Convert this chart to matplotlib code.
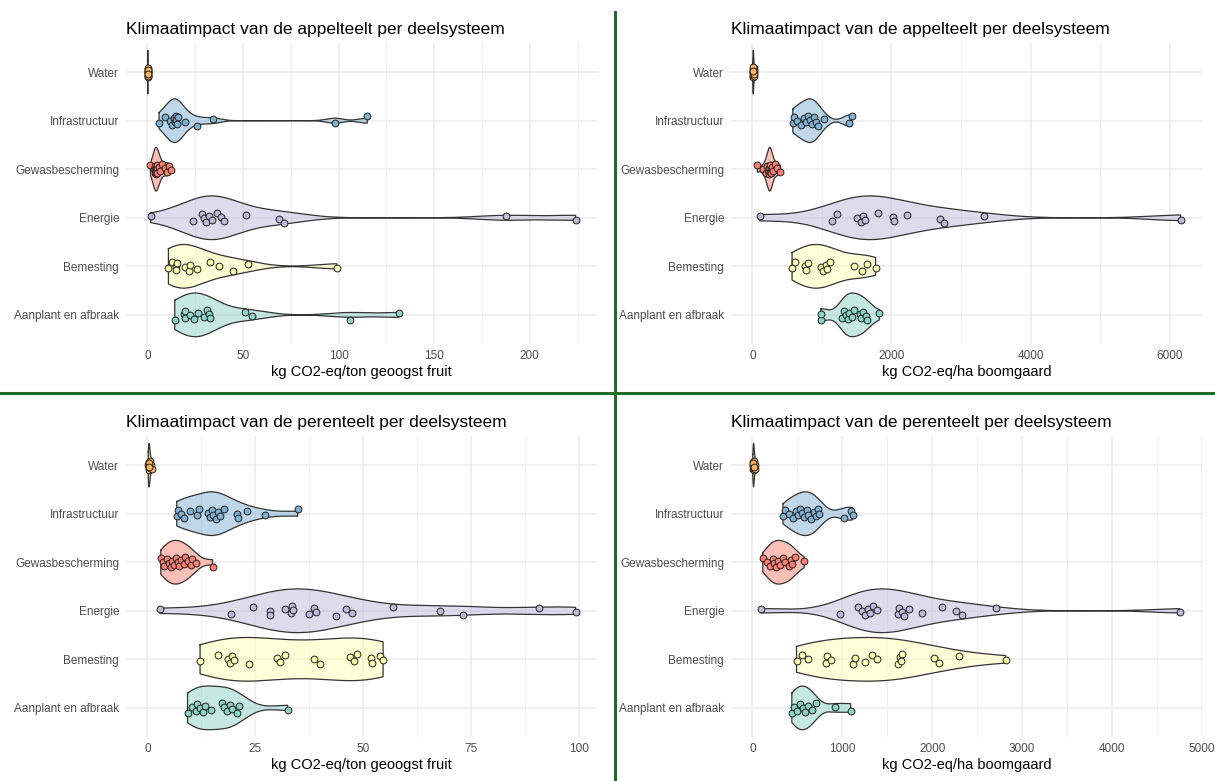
import numpy as np
import matplotlib
matplotlib.use("Agg")
import matplotlib.pyplot as plt
from matplotlib.lines import Line2D

plt.rcParams['font.family'] = ['Liberation Sans', 'DejaVu Sans']

# ---------------- data ----------------
categories = ["Aanplant en afbraak", "Bemesting", "Energie",
              "Gewasbescherming", "Infrastructuur", "Water"]
colors = ["#8DD3C7", "#FFFFB3", "#BEBADA", "#FB8072", "#80B1D3", "#FDB462"]

titles = ["Klimaatimpact van de appelteelt per deelsysteem",
          "Klimaatimpact van de appelteelt per deelsysteem",
          "Klimaatimpact van de perenteelt per deelsysteem",
          "Klimaatimpact van de perenteelt per deelsysteem"]
xlabels = ["kg CO2-eq/ton geoogst fruit", "kg CO2-eq/ha boomgaard",
           "kg CO2-eq/ton geoogst fruit", "kg CO2-eq/ha boomgaard"]
xticks_major = [[0, 50, 100, 150, 200], [0, 2000, 4000, 6000],
                [0, 25, 50, 75, 100], [0, 1000, 2000, 3000, 4000, 5000]]
xticks_minor = [[25, 75, 125, 175, 225], [1000, 3000, 5000],
                [12.5, 37.5, 62.5, 87.5], [500, 1500, 2500, 3500, 4500]]

# Appel, per ton geoogst fruit
appel_ton_aanplant = [14.3, 19.2, 19.6, 19.8, 22.2, 24.5, 26.7, 29.7, 31.1, 32.0,
                      32.7, 51.0, 54.7, 105.8, 131.6]
appel_ton_bemesting = [11.0, 13.1, 14.9, 15.2, 15.4, 19.8, 21.5, 22.2, 25.7, 32.7,
                       37.6, 44.6, 52.4, 99.1]
appel_ton_energie = [1.7, 23.6, 28.5, 29.7, 30.6, 32.0, 33.7, 36.2, 38.5, 39.9,
                     51.6, 68.7, 71.3, 187.5, 224.0]
appel_ton_gewas = [1.6, 3.3, 3.8, 4.0, 4.2, 4.3, 4.5, 4.6, 4.8, 5.0, 5.1, 5.9,
                   6.8, 7.7, 9.1, 10.3, 11.2, 12.6]
appel_ton_infra = [6.1, 9.1, 11.9, 13.1, 14.0, 14.5, 14.9, 15.0, 15.4, 16.1, 19.8,
                   25.9, 34.4, 97.9, 115.0]
appel_ton_water = [0.1, 0.12, 0.15, 0.18, 0.2, 0.22, 0.25, 0.28, 0.3, 0.2, 0.15, 0.25]

# Appel, per ha boomgaard
appel_ha_aanplant = [983, 989, 1291, 1319, 1352, 1374, 1391, 1430, 1464, 1542,
                     1559, 1587, 1631, 1654, 1827]
appel_ha_bemesting = [570, 609, 760, 777, 793, 983, 1017, 1056, 1073, 1112,
                      1458, 1576, 1654, 1771]
appel_ha_energie = [106, 1140, 1218, 1503, 1559, 1587, 1615, 1799, 2023, 2034,
                    2229, 2693, 2749, 3335, 6157]
appel_ha_gewas = [72, 150, 190, 210, 225, 235, 242, 248, 255, 262, 270, 280,
                  300, 330, 360, 400]
appel_ha_infra = [581, 603, 637, 693, 749, 777, 804, 832, 860, 888, 916, 944,
                  1028, 1391, 1430]
appel_ha_water = [4, 6, 8, 10, 12, 14, 15, 16, 18, 20, 22, 25, 10, 12]

# Peer, per ton geoogst fruit
peer_ton_aanplant = [9.3, 10.4, 11.2, 11.6, 12.2, 12.8, 13.3, 14.7, 17.2, 17.8,
                     18.4, 19.2, 19.7, 20.7, 21.3, 32.5]
peer_ton_bemesting = [12.2, 16.3, 18.6, 19.2, 19.5, 20.1, 23.6, 30.0, 30.8, 31.9,
                      38.5, 40.1, 47.0, 47.8, 48.6, 51.7, 52.0, 53.8, 54.6]
peer_ton_energie = [2.9, 19.3, 24.5, 28.3, 28.5, 31.9, 33.3, 33.5, 33.7, 37.4,
                    38.5, 39.1, 43.7, 45.9, 47.4, 57.0, 67.7, 73.2, 90.7, 99.2]
peer_ton_gewas = [3.1, 3.5, 3.9, 4.5, 5.0, 5.4, 5.8, 6.2, 6.6, 7.0, 7.4, 7.7,
                  8.4, 8.7, 9.3, 10.1, 10.4, 11.2, 15.1]
peer_ton_infra = [6.8, 7.2, 7.7, 8.5, 9.9, 11.5, 12.0, 14.1, 14.6, 14.9, 15.3,
                  15.9, 16.4, 16.9, 17.8, 20.7, 21.1, 23.1, 27.2, 34.8]
peer_ton_water = [0.2, 0.3, 0.35, 0.4, 0.45, 0.5, 0.6, 0.7, 0.8, 1.0, 0.3, 0.4]

# Peer, per ha boomgaard
peer_ha_aanplant = [439, 460, 491, 534, 568, 585, 620, 663, 706, 921, 1093]
peer_ha_bemesting = [491, 555, 620, 814, 827, 869, 1124, 1145, 1257, 1331, 1382,
                     1619, 1640, 1653, 1661, 2019, 2075, 2299, 2816]
peer_ha_energie = [95, 977, 1171, 1223, 1257, 1287, 1309, 1343, 1386, 1619, 1632,
                   1661, 1687, 1747, 1890, 2114, 2268, 2333, 2708, 4750]
peer_ha_gewas = [116, 168, 198, 224, 241, 267, 284, 310, 340, 361, 405, 426,
                 439, 469, 577]
peer_ha_infra = [340, 361, 405, 447, 482, 512, 534, 555, 577, 611, 620, 654,
                 684, 706, 728, 741, 1016, 1093, 1115]
peer_ha_water = [5, 8, 10, 12, 15, 18, 20, 22, 25, 30, 12, 15]

panels = [
    [appel_ton_aanplant, appel_ton_bemesting, appel_ton_energie,
     appel_ton_gewas, appel_ton_infra, appel_ton_water],
    [appel_ha_aanplant, appel_ha_bemesting, appel_ha_energie,
     appel_ha_gewas, appel_ha_infra, appel_ha_water],
    [peer_ton_aanplant, peer_ton_bemesting, peer_ton_energie,
     peer_ton_gewas, peer_ton_infra, peer_ton_water],
    [peer_ha_aanplant, peer_ha_bemesting, peer_ha_energie,
     peer_ha_gewas, peer_ha_infra, peer_ha_water],
]

BW_ADJUST = 1.2

# ---------------- helpers ----------------
def nrd0(x):
    x = np.asarray(x, float)
    hi = np.std(x, ddof=1)
    q75, q25 = np.percentile(x, [75, 25])
    lo = min(hi, (q75 - q25) / 1.34)
    if lo <= 0:
        lo = hi if hi > 0 else 1.0
    return 0.9 * lo * len(x) ** -0.2


def violin(ax, vals, ypos, color, zorder=2):
    vals = np.asarray(vals, float)
    bw = nrd0(vals) * BW_ADJUST
    grid = np.linspace(vals.min(), vals.max(), 512)
    dens = np.exp(-0.5 * ((grid[:, None] - vals[None, :]) / bw) ** 2).sum(axis=1)
    hw = 0.45 * dens / dens.max()
    ax.fill_between(grid, ypos - hw, ypos + hw, facecolor=color, alpha=0.5,
                    edgecolor='none', zorder=zorder)
    xs = np.concatenate([grid, grid[::-1], grid[:1]])
    ys = np.concatenate([ypos + hw, (ypos - hw)[::-1], [ypos + hw[0]]])
    ax.plot(xs, ys, color='#333333', lw=0.9, zorder=zorder + 0.1,
            solid_joinstyle='round')


# ---------------- figure ----------------
W, H = 1215, 781
fig = plt.figure(figsize=(W / 100, H / 100), dpi=100)

ax_w, ax_h = 471, 301
positions = [(126, 43), (731, 43), (126, 436), (731, 436)]

for p, (vals_list, (lx, ty)) in enumerate(zip(panels, positions)):
    ax = fig.add_axes([lx / W, 1 - (ty + ax_h) / H, ax_w / W, ax_h / H])
    allv = np.concatenate([np.asarray(v, float) for v in vals_list])
    vmin, vmax = min(0.0, allv.min()), allv.max()
    rng = vmax - vmin
    ax.set_xlim(vmin - 0.05 * rng, vmax + 0.05 * rng)
    ax.set_ylim(0.4, 6.6)

    for i, (vals, col) in enumerate(zip(vals_list, colors)):
        ypos = i + 1
        violin(ax, vals, ypos, col)
        n = len(vals)
        jit = np.array([((k * 0.6180339887 + 0.31 * i) % 1.0 - 0.5) * 0.22
                        for k in range(n)])
        ax.scatter(vals, ypos + jit, s=24, facecolor=col, edgecolor='#222222',
                   linewidths=0.7, zorder=4)

    ax.set_yticks(range(1, 7))
    ax.set_yticklabels(categories)
    ax.set_xticks(xticks_major[p])
    ax.set_xticks(xticks_minor[p], minor=True)
    ax.grid(True, which='major', color='#EBEBEB', lw=1.1, zorder=0)
    ax.grid(True, which='minor', axis='x', color='#F0F0F0', lw=0.7, zorder=0)
    ax.set_axisbelow(True)
    for s in ax.spines.values():
        s.set_visible(False)
    ax.tick_params(axis='both', which='both', length=0, labelsize=8.5,
                   labelcolor='#4D4D4D')
    ax.tick_params(axis='x', pad=4)
    ax.tick_params(axis='y', pad=5)
    ax.set_xlabel(xlabels[p], fontsize=10.5, color='black', labelpad=2.5)
    ax.set_title(titles[p], loc='left', fontsize=12.5, color='black', pad=6.5)

# green separators
fig.add_artist(Line2D([615 / W, 615 / W], [0, 1 - 12 / H], color='#1F6E2A',
                      lw=2.2, transform=fig.transFigure))
fig.add_artist(Line2D([0, 1], [1 - 393 / H, 1 - 393 / H], color='#1F6E2A',
                      lw=2.2, transform=fig.transFigure))

fig.savefig("out.png", dpi=100)
